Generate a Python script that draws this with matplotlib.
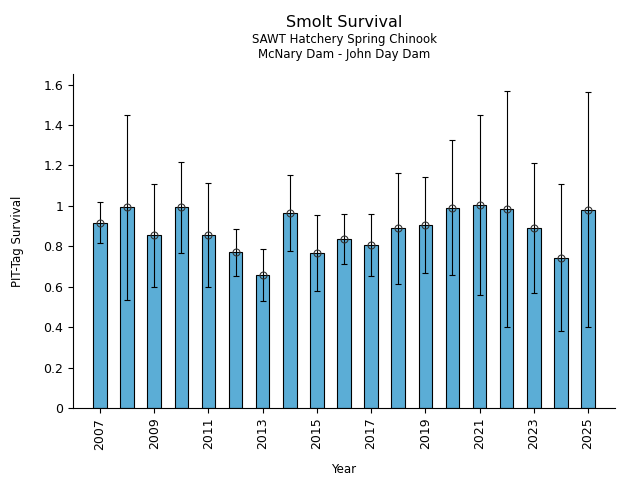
import matplotlib
matplotlib.use("Agg")
import matplotlib.pyplot as plt
from matplotlib.ticker import FormatStrFormatter

# Survival estimates with confidence limits
years = list(range(2007, 2026))
survival = [0.915, 0.995, 0.855, 0.995, 0.855, 0.771, 0.657, 0.964, 0.766, 0.835,
            0.806, 0.890, 0.905, 0.989, 1.004, 0.984, 0.890, 0.741, 0.979]
upper = [1.019, 1.451, 1.108, 1.217, 1.113, 0.883, 0.786, 1.152, 0.954, 0.959,
         0.959, 1.162, 1.143, 1.326, 1.451, 1.569, 1.212, 1.108, 1.564]
lower = [0.816, 0.533, 0.598, 0.766, 0.598, 0.652, 0.528, 0.776, 0.578, 0.711,
         0.652, 0.613, 0.667, 0.657, 0.558, 0.400, 0.568, 0.380, 0.400]

err_lo = [s - l for s, l in zip(survival, lower)]
err_hi = [u - s for s, u in zip(survival, upper)]

fig, ax = plt.subplots(figsize=(6.4, 4.8), dpi=100)
fig.subplots_adjust(left=0.114, right=0.961, top=0.845, bottom=0.15)

ax.bar(years, survival, width=0.5, color="#5badd6", edgecolor="black", linewidth=0.8)
ax.errorbar(years, survival, yerr=[err_lo, err_hi], fmt="o", mfc="none", mec="#333333",
            ms=5, mew=0.8, ecolor="black", elinewidth=0.8, capsize=2.5, capthick=0.8)

ax.set_xlim(2006, 2026)
ax.set_ylim(0, 1.65)
ax.set_xticks(years[::2])
ax.set_xticklabels([str(y) for y in years[::2]], rotation=90, fontsize=9)
ax.set_yticks([0, 0.2, 0.4, 0.6, 0.8, 1.0, 1.2, 1.4, 1.6])
ax.yaxis.set_major_formatter(FormatStrFormatter("%g"))
ax.tick_params(axis="y", labelsize=9)
ax.spines["top"].set_visible(False)
ax.spines["right"].set_visible(False)

ax.set_xlabel("Year", fontsize=8.5, labelpad=10)
ax.set_ylabel("PIT-Tag Survival", fontsize=8.5, labelpad=14)

ax.text(0.5, 1.143, "Smolt Survival", transform=ax.transAxes, ha="center", fontsize=11.5)
ax.text(0.5, 1.05, "SAWT Hatchery Spring Chinook\nMcNary Dam - John Day Dam",
        transform=ax.transAxes, ha="center", fontsize=8.5, linespacing=1.15)

plt.savefig("out.png")
